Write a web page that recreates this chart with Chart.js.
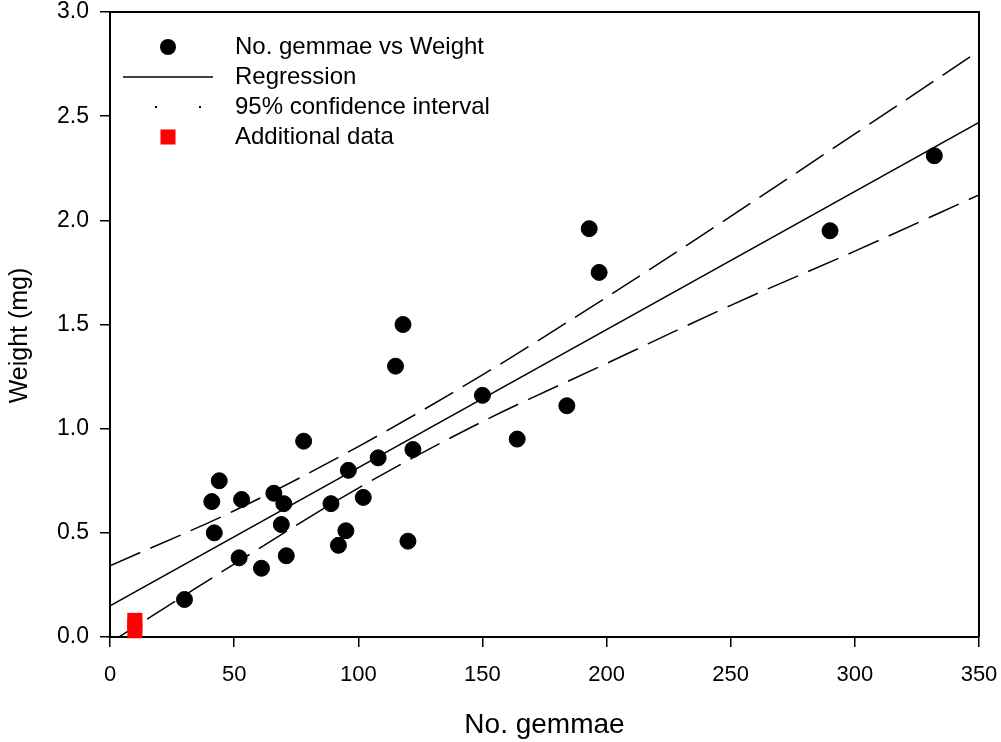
<!DOCTYPE html>
<html>
<head>
<meta charset="utf-8">
<script src="https://cdn.jsdelivr.net/npm/chart.js@4/dist/chart.umd.min.js"></script>
<style>
  html, body { margin: 0; padding: 0; background: #fff; }
  #wrap { width: 1001px; height: 742px; }
</style>
</head>
<body>
<div id="wrap"><canvas id="c" width="1001" height="742"></canvas></div>
<script>
// ---- Data ----
const gemmaeX = [30, 41, 42, 44, 52, 53, 61, 66, 69, 70, 71, 78, 89, 92, 95, 96, 102, 108, 115, 118, 120, 122, 150, 164, 184, 193, 197, 290, 332];
const weightY = [0.18, 0.65, 0.50, 0.75, 0.38, 0.66, 0.33, 0.69, 0.54, 0.64, 0.39, 0.94, 0.64, 0.44, 0.51, 0.80, 0.67, 0.86, 1.30, 1.50, 0.46, 0.90, 1.16, 0.95, 1.11, 1.96, 1.75, 1.95, 2.31];

const regX = [0, 350];
const regY = [0.15, 2.47];

const ciX = [0, 50, 100, 150, 200, 250, 300, 350];
const ciUpper = [0.342, 0.606, 0.914, 1.258, 1.631, 2.019, 2.415, 2.813];
const ciLower = [-0.027, 0.35, 0.715, 1.034, 1.313, 1.592, 1.852, 2.122];

const addX = [10, 10, 10];
const addY = [0.03, 0.055, 0.08];

const xTicks = [0, 50, 100, 150, 200, 250, 300, 350];
const yTicks = [0.0, 0.5, 1.0, 1.5, 2.0, 2.5, 3.0];

const legendLabels = ['No. gemmae vs Weight', 'Regression', '95% confidence interval', 'Additional data'];
const xTitle = 'No. gemmae';
const yTitle = 'Weight (mg)';

const zip = (xs, ys) => xs.map((x, i) => ({ x: x, y: ys[i] }));

const FONT = "'Liberation Sans', Arial, sans-serif";

const framePlugin = {
  id: 'frame',
  afterDatasetsDraw(chart) {
    const { ctx, chartArea: a } = chart;
    ctx.save();
    ctx.strokeStyle = '#000';
    ctx.lineWidth = 2;
    ctx.beginPath();
    ctx.moveTo(a.left, a.top);
    ctx.lineTo(a.right, a.top);
    ctx.lineTo(a.right, a.bottom);
    ctx.stroke();
    ctx.restore();
  },
  afterDraw(chart) {
    const { ctx, chartArea: a } = chart;
    ctx.save();
    const sx = 168, tx = 235;
    const rows = [47, 77, 107, 137];
    ctx.fillStyle = '#000';
    ctx.beginPath();
    ctx.arc(sx, rows[0], 8, 0, Math.PI * 2);
    ctx.fill();
    ctx.strokeStyle = '#000';
    ctx.lineWidth = 1.5;
    ctx.beginPath();
    ctx.moveTo(123, rows[1]);
    ctx.lineTo(213, rows[1]);
    ctx.stroke();
    ctx.fillRect(155, rows[2] - 1, 2, 2);
    ctx.fillRect(199, rows[2] - 1, 2, 2);
    ctx.fillStyle = '#ff0000';
    ctx.fillRect(sx - 7.5, rows[3] - 7.5, 15, 15);
    ctx.fillStyle = '#000';
    ctx.font = '24px ' + FONT;
    ctx.textBaseline = 'middle';
    ctx.textAlign = 'left';
    legendLabels.forEach((t, i) => ctx.fillText(t, tx, rows[i]));
    // y axis title
    ctx.translate(20, (a.top + a.bottom) / 2 + 11);
    ctx.rotate(-Math.PI / 2);
    ctx.textAlign = 'center';
    ctx.font = '25px ' + FONT;
    ctx.fillText(yTitle, 0, 0);
    ctx.restore();
  }
};

new Chart(document.getElementById('c'), {
  type: 'scatter',
  data: {
    datasets: [
      {
        label: legendLabels[0],
        data: zip(gemmaeX, weightY),
        backgroundColor: '#000',
        borderColor: '#000',
        pointRadius: 8,
        pointHoverRadius: 8,
        showLine: false,
        order: 1
      },
      {
        label: legendLabels[1],
        data: zip(regX, regY),
        showLine: true,
        borderColor: '#000',
        borderWidth: 1.5,
        pointRadius: 0,
        order: 3
      },
      {
        label: legendLabels[2] + ' upper',
        data: zip(ciX, ciUpper),
        showLine: true,
        borderColor: '#000',
        borderWidth: 1.5,
        borderDash: [33, 11],
        cubicInterpolationMode: 'monotone',
        pointRadius: 0,
        order: 3
      },
      {
        label: legendLabels[2] + ' lower',
        data: zip(ciX, ciLower),
        showLine: true,
        borderColor: '#000',
        borderWidth: 1.5,
        borderDash: [33, 11],
        cubicInterpolationMode: 'monotone',
        pointRadius: 0,
        order: 3
      },
      {
        label: legendLabels[3],
        data: zip(addX, addY),
        pointStyle: 'rect',
        backgroundColor: '#ff0000',
        borderColor: '#ff0000',
        borderWidth: 0,
        pointRadius: 10.6,
        pointHoverRadius: 10.6,
        showLine: false,
        clip: false,
        order: 0
      }
    ]
  },
  options: {
    responsive: false,
    animation: false,
    events: [],
    layout: { padding: { top: 12, right: 22, bottom: 0, left: 0 } },
    plugins: {
      legend: { display: false },
      tooltip: { enabled: false }
    },
    scales: {
      x: {
        type: 'linear',
        min: 0, max: 350,
        afterBuildTicks: (s) => { s.ticks = xTicks.map(v => ({ value: v })); },
        afterFit: (s) => { s.height = 105; s.paddingLeft = 0; s.paddingRight = 0; },
        grid: { drawOnChartArea: false, drawTicks: true, tickLength: 10, color: '#000', lineWidth: 1.5 },
        border: { display: true, color: '#000', width: 2 },
        ticks: { color: '#000', font: { family: FONT, size: 22 }, padding: 15, maxRotation: 0 },
        title: { display: true, text: xTitle, color: '#000', font: { family: FONT, size: 28 }, padding: { top: 0, bottom: 0 } }
      },
      y: {
        type: 'linear',
        min: 0, max: 3,
        afterBuildTicks: (s) => { s.ticks = yTicks.map(v => ({ value: v })); },
        afterFit: (s) => { s.width = 110; s.paddingTop = 0; s.paddingBottom = 0; },
        grid: { drawOnChartArea: false, drawTicks: true, tickLength: 10, color: '#000', lineWidth: 1.5 },
        border: { display: true, color: '#000', width: 2 },
        ticks: { color: '#000', font: { family: FONT, size: 23 }, padding: 11, callback: (v) => Number(v).toFixed(1) },
        title: { display: false, text: yTitle }
      }
    }
  },
  plugins: [framePlugin]
});
</script>
</body>
</html>
